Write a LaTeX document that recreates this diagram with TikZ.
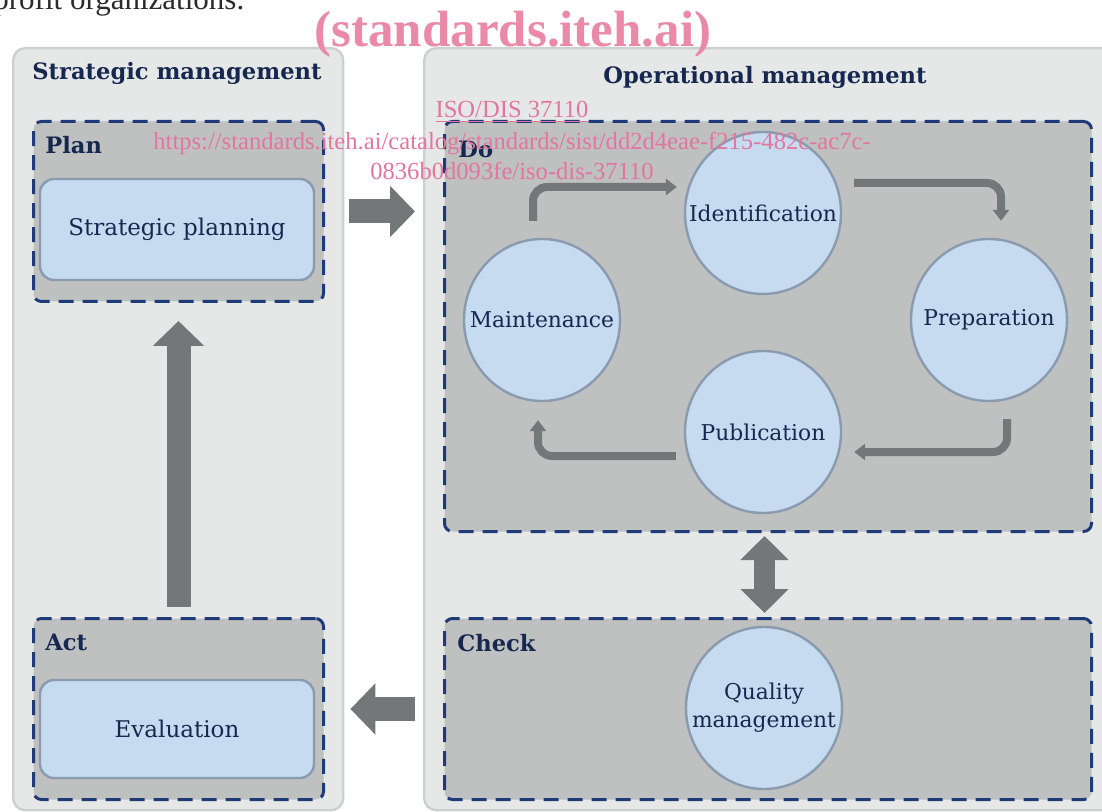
\documentclass[tikz,border=0pt]{standalone}
\usepackage{fontspec}
\setmainfont{DejaVu Serif}
\newfontfamily\wmfont{Liberation Serif}
\usetikzlibrary{arrows.meta, positioning, shapes.geometric, calc}
\definecolor{panelbg}{HTML}{E6E8E8}
\definecolor{panelline}{HTML}{CDD0D0}
\definecolor{phasebg}{HTML}{BFC0C0}
\definecolor{dashblue}{HTML}{1F3A78}
\definecolor{navytext}{HTML}{162850}
\definecolor{taskbg}{HTML}{C6DBF0}
\definecolor{taskline}{HTML}{8A9BB0}
\definecolor{arrowgray}{HTML}{737777}
\definecolor{wmpink}{HTML}{EA8AA8}
\definecolor{linkpink}{HTML}{E2769C}
\definecolor{bodytext}{HTML}{2A2A2A}

\begin{document}
\begin{tikzpicture}[x=0.5pt, y=-0.5pt,
    panel/.style={draw=panelline, line width=1.2pt, fill=panelbg, rounded corners=6pt,
                  inner sep=0pt, anchor=north west},
    phase/.style={draw=dashblue, line width=1.5pt, dash pattern=on 7.5pt off 4.5pt,
                  fill=phasebg, rounded corners=4pt, inner sep=0pt, anchor=north west},
    task/.style={draw=taskline, line width=1.2pt, fill=taskbg, rounded corners=7pt,
                 text=navytext, font=\fontsize{11.5}{13}\selectfont,
                 minimum width=137pt},
    bubble/.style={ellipse, draw=taskline, line width=1.2pt, fill=taskbg,
                   inner xsep=-14pt, inner ysep=0pt,
                   minimum width=78pt, minimum height=81pt, align=center,
                   text=navytext, font=\fontsize{10.9}{14}\selectfont},
    heading/.style={text=navytext, font=\bfseries\fontsize{11.3}{13}\selectfont,
                    inner sep=0pt},
    bigarr/.style={line width=12pt, draw=arrowgray, -{Triangle[length=12.5pt, width=25pt]}},
    cyc/.style={line width=4pt, draw=arrowgray, rounded corners=7pt,
                -{Triangle[length=5.5pt, width=8pt]}},
    wmlink/.style={text=linkpink, font=\wmfont\fontsize{12.3}{15}\selectfont,
                   inner sep=0pt, anchor=base}
  ]
  \useasboundingbox (0,0) rectangle (1102,812);

  % tail of the running text above the figure
  \node[anchor=base west, inner sep=0pt, text=bodytext,
        font=\wmfont\fontsize{15.5}{18}\selectfont] (intro) at (-7,10) {profit organizations.};

  % the two management columns
  \node[panel, minimum width=165pt, minimum height=381pt] (strat) at (12,47) {};
  \node[panel, minimum width=346pt, minimum height=381pt] (oper) at (423,47) {};
  \node[heading, anchor=west] (strattitle) at (32,73) {Strategic management};
  \node[heading] (opertitle) at (765,77) {Operational management};

  % PDCA phases
  \node[phase, minimum width=145pt, minimum height=90pt] (plan) at (32,120) {};
  \node[phase, minimum width=145pt, minimum height=90.5pt] (act) at (32,617) {};
  \node[phase, minimum width=323.5pt, minimum height=205pt] (do) at (443,120) {};
  \node[phase, minimum width=323.5pt, minimum height=90.5pt] (check) at (443,617) {};
  \node[heading, anchor=west] at (45,145) {Plan};
  \node[heading, anchor=west] at (45,642) {Act};
  \node[heading, anchor=west] at (458,149) {Do};
  \node[heading, anchor=west] at (457,643) {Check};

  \node[task, minimum height=50.5pt] (planning) at (177,229.5) {Strategic planning};
  \node[task, minimum height=49pt] (evaluation) at (177,729) {Evaluation};

  % the cycle inside "Do"
  \node[bubble] (ident) at (763,213) {Identification};
  \node[bubble] (prep) at (989,320) {Preparation};
  \node[bubble] (publ) at (763,432) {Publication};
  \node[bubble] (maint) at (542,320) {Maintenance};
  \node[bubble] (qual) at (764,708) {Quality\\management};

  \draw[cyc] ([xshift=-4.5pt, yshift=8.5pt]maint.north) |- ([xshift=-3.5pt, yshift=13pt]ident.west);
  \draw[cyc] ([xshift=6pt, yshift=15pt]ident.east) -| ([xshift=6pt, yshift=8.5pt]prep.north);
  \draw[cyc] ([xshift=9pt, yshift=-8.5pt]prep.south) |- ([xshift=6pt, yshift=-10pt]publ.east);
  \draw[cyc] ([xshift=-4pt, yshift=-12pt]publ.west) -| ([xshift=-2pt, yshift=-9pt]maint.south);

  % links between phases
  \draw[bigarr] ([xshift=2.5pt]strat.east |- plan) -- ([xshift=-4pt]oper.west |- plan);
  \draw[bigarr] ([xshift=-4pt]oper.west |- act) -- ([xshift=3pt]strat.east |- act);
  \draw[bigarr] ([yshift=5pt]act.north) -- ([yshift=-9pt]plan.south);
  \draw[line width=10.5pt, draw=arrowgray,
        {Triangle[length=12pt, width=23.5pt]}-{Triangle[length=12pt, width=23.5pt]}]
        ([xshift=-1.75pt, yshift=-1.5pt]do.south) -- ([xshift=-1.75pt, yshift=2pt]check.north);

  % catalogue stamp laid over the page
  \node[anchor=base, inner sep=0pt, text=wmpink,
        font=\wmfont\bfseries\fontsize{25.5}{30}\selectfont] (wmsite) at (513,47) {(standards.iteh.ai)};
  \node[wmlink] (wmiso) at (512,118) {\underline{ISO/DIS 37110}};
  \node[wmlink] (wmurl) at (512,150) {https://standards.iteh.ai/catalog/standards/sist/dd2d4eae-f215-482c-ac7c-};
  \node[wmlink] (wmid) at (512,180) {0836b0d093fe/iso-dis-37110};
\end{tikzpicture}
\end{document}
